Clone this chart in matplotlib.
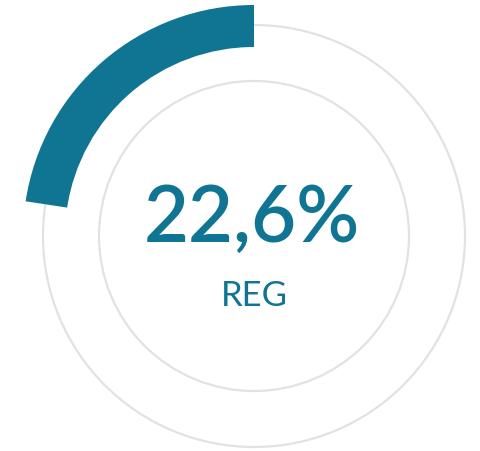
import numpy as np
import matplotlib
matplotlib.use('Agg')
import matplotlib.pyplot as plt
from matplotlib.patches import Wedge, Circle

value = 22.6
label_value = '22,6%'
label_name = 'REG'

teal = '#0f7592'
ring = '#e2e2e2'

fig = plt.figure(figsize=(4.8, 4.52), dpi=100)
ax = fig.add_axes([0, 0, 1, 1])
ax.set_xlim(0, 480)
ax.set_ylim(452, 0)
ax.axis('off')

cx, cy = 254, 237

# background rings
ax.add_patch(Circle((cx, cy), 211, fill=False, ec=ring, lw=1.6))
ax.add_patch(Circle((cx, cy), 155, fill=False, ec=ring, lw=1.6))

# value arc, starts at 12 o'clock and goes counter clockwise on screen
# (y axis is flipped so angles run clockwise in data space)
sweep = value / 100 * 360
ax.add_patch(Wedge((cx, cy), 231, 270 - sweep, 270, width=42, fc=teal, ec='none'))

ax.text(cx - 2, 220, label_value, ha='center', va='center', color=teal,
        fontsize=56, fontweight='semibold', family=['Lato', 'DejaVu Sans'])
ax.text(cx, 296, label_name, ha='center', va='center', color=teal,
        fontsize=25, family=['Lato', 'DejaVu Sans'])

fig.savefig('out.png', dpi=100)
